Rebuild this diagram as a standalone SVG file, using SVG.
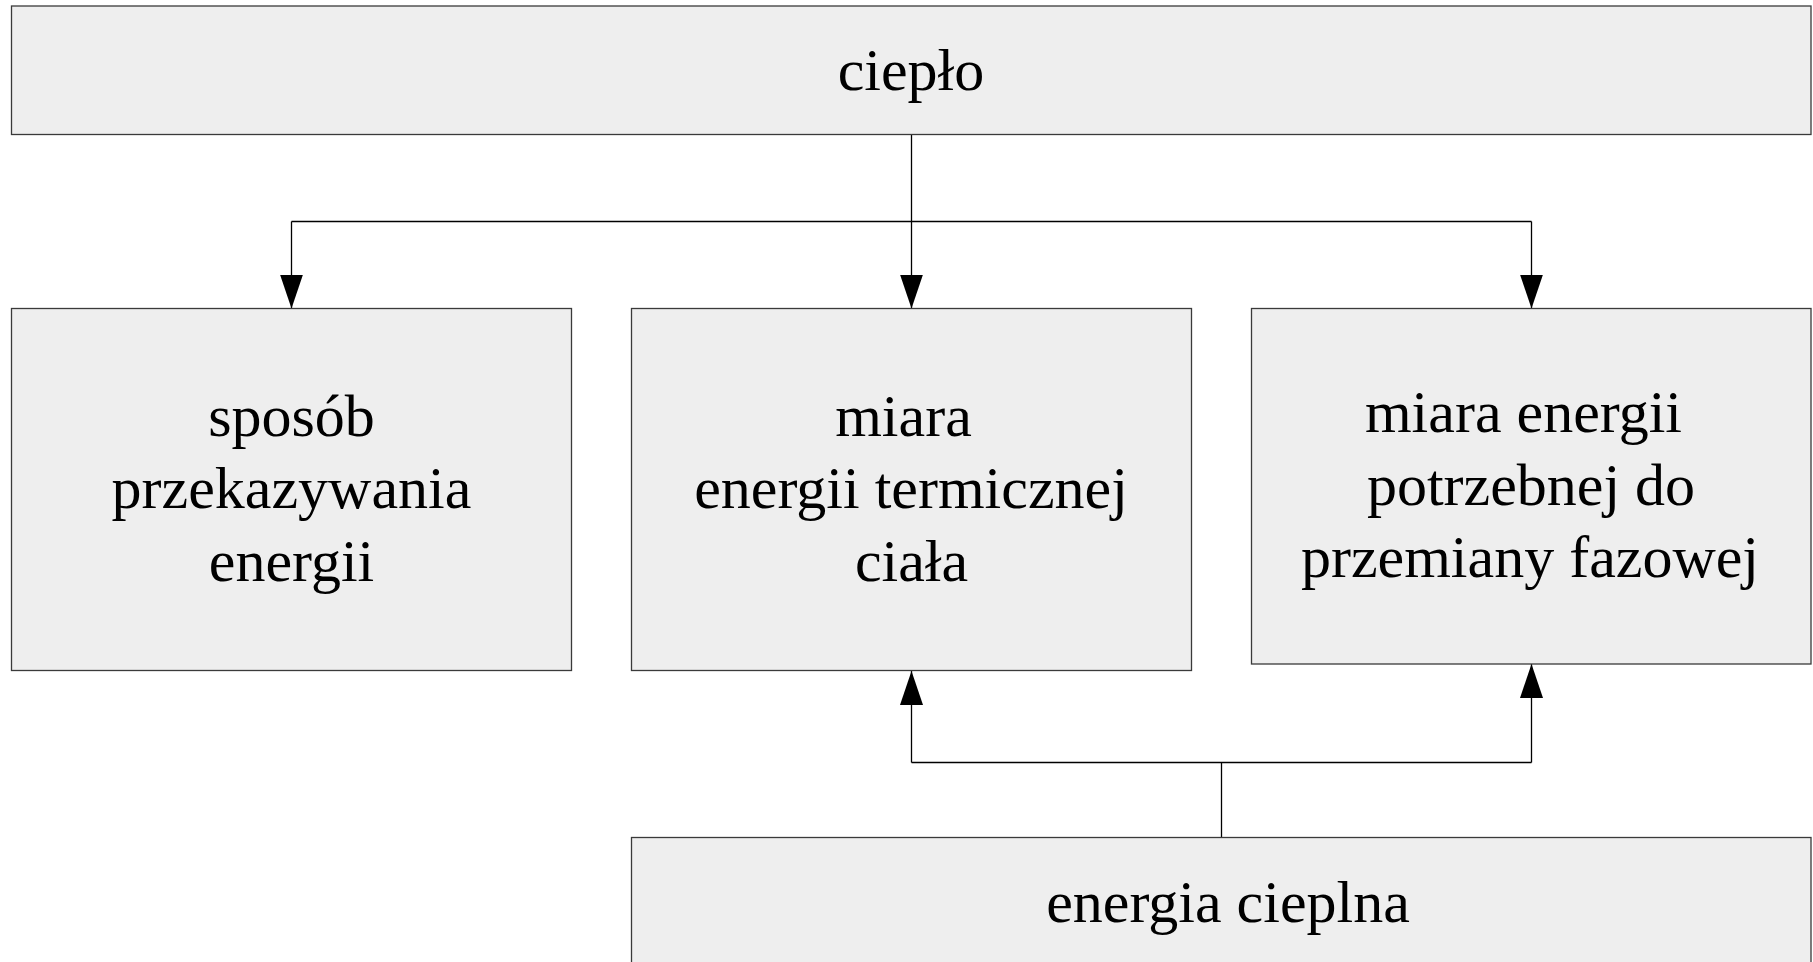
<svg xmlns="http://www.w3.org/2000/svg" width="1813" height="962" viewBox="0 0 1813 962">
<style>
.box{fill:#eeeeee;stroke:#3a3a3a;stroke-width:1.3}
.t{font-family:"Liberation Serif","Times New Roman",serif;font-size:60px;fill:#000;text-anchor:middle}
.c{fill:none;stroke:#000;stroke-width:1.3}
</style>
<defs>
<marker id="ah" viewBox="0 0 34 23" refX="34" refY="11.5" markerWidth="34" markerHeight="23" markerUnits="userSpaceOnUse" orient="auto">
<path d="M0,0 L34,11.5 L0,23 Z" fill="#000"/>
</marker>
</defs>
<rect width="1813" height="962" fill="#fff"/>
<g id="connectors">
<line class="c" x1="911.5" y1="134.5" x2="911.5" y2="308.5" marker-end="url(#ah)"/>
<line class="c" x1="291.5" y1="221.5" x2="1531.5" y2="221.5"/>
<line class="c" x1="291.5" y1="221.5" x2="291.5" y2="308.5" marker-end="url(#ah)"/>
<line class="c" x1="1531.5" y1="221.5" x2="1531.5" y2="308.5" marker-end="url(#ah)"/>
<line class="c" x1="1221.5" y1="837.5" x2="1221.5" y2="762.5"/>
<line class="c" x1="911.5" y1="762.5" x2="1531.5" y2="762.5"/>
<line class="c" x1="911.5" y1="762.5" x2="911.5" y2="671" marker-end="url(#ah)"/>
<line class="c" x1="1531.5" y1="762.5" x2="1531.5" y2="664" marker-end="url(#ah)"/>
</g>
<g id="n-cieplo">
<rect class="box" x="11.5" y="6" width="1799.5" height="128.5"/>
<text class="t" x="911" y="90">ciepło</text>
</g>
<g id="n-sposob">
<rect class="box" x="11.5" y="308.5" width="560" height="362"/>
<text class="t" x="291.5" y="435.5">sposób</text>
<text class="t" x="291.5" y="508">przekazywania</text>
<text class="t" x="291.5" y="580.5">energii</text>
</g>
<g id="n-miara-termicznej">
<rect class="box" x="631.5" y="308.5" width="560" height="362"/>
<text class="t" x="903.5" y="435.5">miara</text>
<text class="t" x="911" y="508">energii termicznej</text>
<text class="t" x="911.5" y="580.5">ciała</text>
</g>
<g id="n-miara-fazowej">
<rect class="box" x="1251.5" y="308.5" width="559.5" height="355.5"/>
<text class="t" x="1523.5" y="432">miara energii</text>
<text class="t" x="1531" y="504.5">potrzebnej do</text>
<text class="t" x="1530" y="577">przemiany fazowej</text>
</g>
<g id="n-energia">
<rect class="box" x="631.5" y="837.5" width="1179.5" height="140"/>
<text class="t" x="1228" y="921.5">energia cieplna</text>
</g>
</svg>
